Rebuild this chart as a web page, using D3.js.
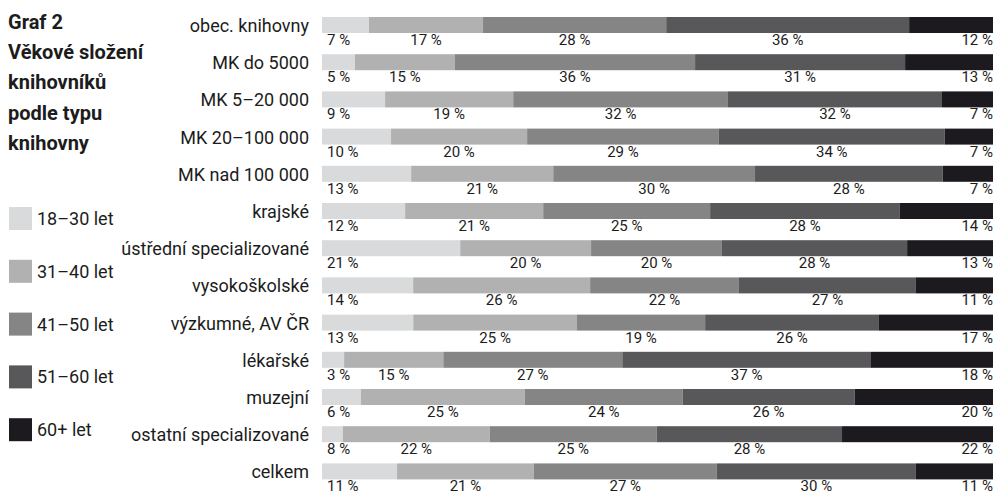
<!DOCTYPE html>
<html>
<head>
<meta charset="utf-8">
<script src="https://cdn.jsdelivr.net/npm/d3@7/dist/d3.min.js"></script>
<style>
  body { margin: 0; background: #fff; }
  svg { display: block; font-family: Roboto, "Noto Sans", sans-serif; }
</style>
</head>
<body>
<svg width="996" height="497"></svg>
<script>
// library types, top to bottom
const categories = [
  "obec. knihovny", "MK do 5000", "MK 5–20 000", "MK 20–100 000", "MK nad 100 000",
  "krajské", "ústřední specializované", "vysokoškolské", "výzkumné, AV ČR",
  "lékařské", "muzejní", "ostatní specializované", "celkem"
];
const ageGroups = ["18–30 let", "31–40 let", "41–50 let", "51–60 let", "60+ let"];
const titleLines = ["Graf 2", "Věkové složení", "knihovníků", "podle typu", "knihovny"];

// bar shares
const share18_30 = [7.0, 4.9, 9.4, 10.3, 13.3, 12.4, 20.6, 13.6, 13.6, 3.3, 5.8, 3.1, 11.2];
const share31_40 = [17.0, 14.9, 19.1, 20.3, 21.2, 20.6, 19.5, 26.4, 24.4, 14.8, 24.4, 21.9, 20.4];
const share41_50 = [27.3, 35.8, 32.0, 28.6, 30.1, 24.9, 19.5, 22.2, 19.1, 26.7, 23.5, 24.9, 27.3];
const share51_60 = [36.2, 31.3, 31.9, 33.7, 28.0, 28.3, 27.6, 26.4, 25.9, 37.1, 25.6, 27.6, 29.7];
const share60plus = [12.5, 13.1, 7.6, 7.2, 7.5, 13.9, 12.8, 11.5, 17.0, 18.2, 20.6, 22.5, 11.5];

// percentages printed under the bars
const label18_30 = [7, 5, 9, 10, 13, 12, 21, 14, 13, 3, 6, 8, 11];
const label31_40 = [17, 15, 19, 20, 21, 21, 20, 26, 25, 15, 25, 22, 21];
const label41_50 = [28, 36, 32, 29, 30, 25, 20, 22, 19, 27, 24, 25, 27];
const label51_60 = [36, 31, 32, 34, 28, 28, 28, 27, 26, 37, 26, 28, 30];
const label60plus = [12, 13, 7, 7, 7, 14, 13, 11, 17, 18, 20, 22, 11];

const colors = ["#d9dadb", "#b1b1b2", "#858586", "#58585a", "#1c1a1f"];
const textColor = "#1c1c1c";

const shareSeries = [share18_30, share31_40, share41_50, share51_60, share60plus];
const labelSeries = [label18_30, label31_40, label41_50, label51_60, label60plus];

const table = categories.map((c, i) => {
  const row = { category: c };
  ageGroups.forEach((g, k) => { row[g] = shareSeries[k][i]; });
  return row;
});

const stacked = d3.stack()
  .keys(ageGroups)
  .offset(d3.stackOffsetExpand)(table);

const svg = d3.select("svg");

const x = d3.scaleLinear().domain([0, 1]).range([322, 993]);
const y = d3.scaleBand()
  .domain(categories)
  .range([17, 17 + 12 * 37.2 + 16])
  .paddingInner(0.57)
  .paddingOuter(0);

// title
svg.append("g")
  .selectAll("text")
  .data(titleLines)
  .join("text")
  .attr("x", 8)
  .attr("y", (d, i) => 29 + i * 30.2)
  .attr("font-size", 20)
  .attr("font-weight", "bold")
  .attr("fill", textColor)
  .text(d => d);

// legend
const legend = svg.append("g")
  .selectAll("g")
  .data(ageGroups)
  .join("g")
  .attr("transform", (d, i) => `translate(9,${207 + i * 52.8})`);

legend.append("rect")
  .attr("width", 23)
  .attr("height", 23)
  .attr("fill", (d, i) => colors[i]);

legend.append("text")
  .attr("x", 28)
  .attr("y", 18)
  .attr("font-size", 18)
  .attr("fill", textColor)
  .text(d => d);

// category labels
svg.append("g")
  .selectAll("text")
  .data(categories)
  .join("text")
  .attr("x", 309)
  .attr("y", d => y(d) + y.bandwidth() - 1)
  .attr("text-anchor", "end")
  .attr("font-size", 18)
  .attr("fill", textColor)
  .text(d => d);

// bars
svg.append("g")
  .selectAll("g")
  .data(stacked)
  .join("g")
  .attr("fill", (d, i) => colors[i])
  .selectAll("rect")
  .data(d => d)
  .join("rect")
  .attr("x", d => x(d[0]))
  .attr("y", d => y(d.data.category))
  .attr("width", d => x(d[1]) - x(d[0]))
  .attr("height", y.bandwidth());

// percentage labels under bars
const last = ageGroups.length - 1;
svg.append("g")
  .selectAll("g")
  .data(stacked)
  .join("g")
  .selectAll("text")
  .data((s, k) => s.map((d, i) => ({ d, k, i })))
  .join("text")
  .attr("x", ({ d, k }) => k === 0 ? x(0) + 5 : k === last ? x(1) : x((d[0] + d[1]) / 2))
  .attr("y", ({ d }) => y(d.data.category) + y.bandwidth() + 12)
  .attr("text-anchor", ({ k }) => k === 0 ? "start" : k === last ? "end" : "middle")
  .attr("font-size", 15)
  .attr("fill", textColor)
  .text(({ k, i }) => `${labelSeries[k][i]} %`);
</script>
</body>
</html>
